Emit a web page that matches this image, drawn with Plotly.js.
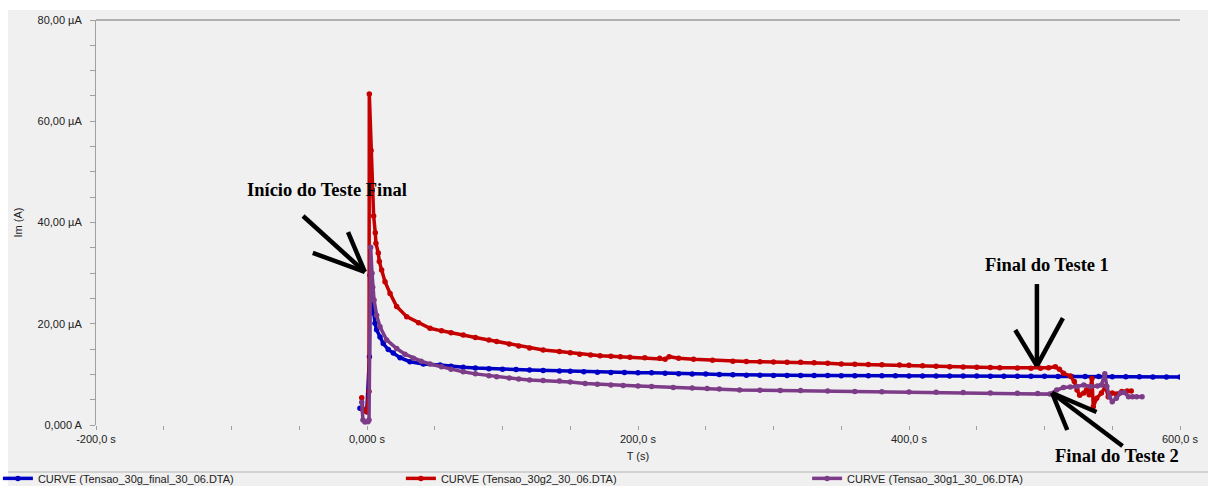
<!DOCTYPE html>
<html>
<head>
<meta charset="utf-8">
<script src="https://cdn.plot.ly/plotly-3.0.1.min.js"></script>
<style>
html,body{margin:0;padding:0;background:#fff;}
#chart{width:1208px;height:486px;}
</style>
</head>
<body>
<div id="chart"></div>
<script>
// ---- Data (time in s, current in µA) ----
const seriesNames = [
  "CURVE (Tensao_30g_final_30_06.DTA)",
  "CURVE (Tensao_30g2_30_06.DTA)",
  "CURVE (Tensao_30g1_30_06.DTA)"
];

const tBlue = [-5.2,-2.7,-0.2,1.8,2.2,3.0,3.9,4.7,5.9,7.1,9.6,12,15.7,19.4,24.4,31.7,41.6,53.9,62,71,80,90,100,110,120,130,142,150,160,170,180,190,200,210,220,230,240,250,260,270,280,290,300,310,320,330,340,350,360,370,380,390,400,410,420,430,440,450,460,470,480,490,500,510,520,530,540,550,560,570,580,590,600];
const vBlue = [3.3,3.0,2.6,13.5,29.6,26.7,24.7,22.1,20.1,18.8,17.4,16.1,14.9,14.2,13.3,12.5,12.05,11.85,11.6,11.4,11.25,11.1,11.0,10.95,10.86,10.78,10.67,10.6,10.5,10.42,10.38,10.35,10.33,10.3,10.2,10.1,10.07,10.05,10.0,9.95,9.85,9.82,9.8,9.8,9.78,9.77,9.76,9.75,9.75,9.74,9.73,9.72,9.7,9.7,9.69,9.68,9.67,9.66,9.65,9.64,9.63,9.62,9.62,9.6,9.6,9.58,9.57,9.55,9.53,9.52,9.5,9.5,9.5];

const tRed = [-3.9,-3.0,-0.2,1.5,1.7,3.0,4.9,6.1,6.6,8.3,9.1,10.8,13.3,17,21.9,29.3,38,46.5,55,62,71,80,90,95.7,105,112,120,130,142,150,157,165,172,180,187,194,205,216,220,223,230,241,255,270,280,290,300,310,320,330,340,350,360,370,380,393,400,410,420,430,440,450,460,467,480,490,497,503,508,511,514,519,522,524,526,529,531,533,535,536,538.5,542,545,547,550,553,557,561,564];
const vRed = [5.4,3.0,2.6,6.6,65.4,54.2,41.3,38.0,35.9,34.0,32.3,30.6,28.3,26.0,23.4,21.4,20.2,19.1,18.6,18.2,17.8,17.3,16.8,16.5,16.0,15.6,15.2,14.8,14.5,14.25,14.0,13.85,13.7,13.6,13.5,13.4,13.3,13.2,13.0,13.5,13.2,13.0,12.8,12.6,12.55,12.5,12.45,12.4,12.4,12.3,12.2,12.05,12.0,11.95,11.9,11.85,11.8,11.7,11.6,11.5,11.45,11.4,11.35,11.3,11.25,11.2,11.2,11.3,11.5,11.0,10.2,9.7,8.6,6.9,5.9,6.3,6.9,6.0,9.2,3.6,5.3,6.3,7.6,5.6,6.3,6.1,6.6,6.7,6.7];

const tPurple = [-3.9,-3.0,-1.5,0.7,1.5,2.7,3.7,4.2,5.2,7.1,9.6,14.5,21.9,28,34.2,40,46.5,55,62,71,80,90,95.7,105,112,120,130,142,150,161,170,180,189,200,210,226,240,251,260,275,290,305,320,340,360,380,400,420,440,460,480,495,504,509,514,519,524,529,534,539,542,544.5,546,548,550,553,556,559,562,565,568,572];
const vPurple = [4.5,1.0,0.6,0.65,1.0,35.1,30.0,27.2,24.7,21.7,19.4,16.8,15.1,14.0,13.2,12.6,12.05,11.5,11.0,10.5,10.1,9.75,9.55,9.3,9.1,8.9,8.8,8.7,8.5,8.2,8.05,7.9,7.8,7.7,7.6,7.4,7.3,7.2,7.1,6.9,6.85,6.8,6.8,6.7,6.6,6.55,6.5,6.45,6.4,6.3,6.25,6.2,6.1,6.9,7.4,7.5,7.6,7.9,7.6,7.7,7.9,10.1,7.6,5.6,4.6,5.3,6.3,6.4,5.6,5.6,5.6,5.6];

const xTickVals = [-200, 0, 200, 400, 600];
const xTickText = ["-200,0 s", "0,000 s", "200,0 s", "400,0 s", "600,0 s"];
const yTickVals = [0, 20, 40, 60, 80];
const yTickText = ["0,000 A", "20,00 µA", "40,00 µA", "60,00 µA", "80,00 µA"];

const colors = ["#0000c4", "#c40000", "#7d3c87"];

function mk(t, v, name, color, legendId) {
  return {
    type: "scatter", mode: "lines+markers", x: t, y: v, name: name,
    line: {color: color, width: 3.5},
    marker: {color: color, size: 5.5, symbol: "circle"},
    cliponaxis: true, legend: legendId
  };
}

const data = [
  mk(tBlue, vBlue, seriesNames[0], colors[0], "legend"),
  mk(tRed, vRed, seriesNames[1], colors[1], "legend"),
  mk(tPurple, vPurple, seriesNames[2], colors[2], "legend2")
];

const tickFont = {family: "Liberation Sans, Arial, sans-serif", size: 11, color: "#222"};
const annFont = {family: "Liberation Serif, Times New Roman, serif", size: 18.5, color: "#000"};

function seg(x0, y0, x1, y1) {
  return {type: "line", xref: "paper", yref: "paper", x0: x0, y0: y0, x1: x1, y1: y1,
          line: {color: "#000", width: 4.5}, layer: "above"};
}

const layout = {
  width: 1208, height: 486,
  margin: {l: 96, r: 28, t: 20, b: 61, autoexpand: false},
  paper_bgcolor: "#ffffff",
  plot_bgcolor: "#ffffff",
  font: tickFont,
  showlegend: true,
  xaxis: {
    range: [-200, 600], tickmode: "array", tickvals: xTickVals, ticktext: xTickText,
    ticks: "outside", ticklen: 4, tickcolor: "#a0a0a0", tickwidth: 1,
    minor: {dtick: 50, tick0: 0, ticks: "outside", ticklen: 4, tickcolor: "#a0a0a0", showgrid: false},
    showgrid: false, zeroline: false, showline: false,
    tickfont: tickFont, fixedrange: true,
    title: {text: "T (s)", font: tickFont, standoff: 8}
  },
  yaxis: {
    range: [0, 80], tickmode: "array", tickvals: yTickVals, ticktext: yTickText,
    ticks: "outside", ticklen: 5, tickcolor: "#a0a0a0", tickwidth: 1,
    minor: {dtick: 5, tick0: 0, ticks: "outside", ticklen: 5, tickcolor: "#a0a0a0", showgrid: false},
    showgrid: false, zeroline: false, showline: true, linecolor: "#a0a0a0", linewidth: 1,
    tickfont: tickFont, fixedrange: true, ticklabelstandoff: 6,
    title: {text: "Im (A)", font: tickFont, standoff: 12}
  },
  legend: {
    orientation: "h", x: -0.0905, xanchor: "left", y: -0.096, yanchor: "top",
    entrywidth: 358, entrywidthmode: "pixels",
    font: tickFont, bgcolor: "rgba(0,0,0,0)", itemwidth: 30
  },
  legend2: {
    orientation: "h", x: 0.656, xanchor: "left", y: -0.096, yanchor: "top",
    font: tickFont, bgcolor: "rgba(0,0,0,0)", itemwidth: 30
  },
  shapes: [
    {type: "rect", xref: "paper", yref: "paper", x0: -0.0812, x1: 1.06, y0: -0.2, y1: 1.0247,
     fillcolor: "#f0f0f0", line: {width: 0}, layer: "below"},
    {type: "line", xref: "paper", yref: "paper", x0: 0, x1: 1, y0: 1.0, y1: 1.0,
     line: {color: "#b0b0b0", width: 2}, layer: "above"},
    {type: "line", xref: "paper", yref: "paper", x0: -0.0812, x1: 1.06, y0: -0.116, y1: -0.116,
     line: {color: "#c8c8c8", width: 1.5}, layer: "above"},
    // Arrow: Início do Teste Final
    seg(0.191, 0.516, 0.248, 0.378),
    seg(0.200, 0.425, 0.248, 0.378),
    seg(0.2325, 0.4765, 0.248, 0.378),
    // Arrow: Final do Teste 1
    seg(0.868, 0.348, 0.868, 0.146),
    seg(0.848, 0.2346, 0.868, 0.146),
    seg(0.892, 0.264, 0.868, 0.146),
    // Arrow: Final do Teste 2
    seg(0.947, -0.052, 0.882, 0.079),
    seg(0.896, -0.0123, 0.882, 0.079),
    seg(0.923, 0.032, 0.882, 0.079)
  ],
  annotations: [
    {text: "<b>Início do Teste Final</b>", xref: "paper", yref: "paper", x: 0.2131, y: 0.580,
     showarrow: false, font: annFont, xanchor: "center", yanchor: "middle"},
    {text: "<b>Final do Teste 1</b>", xref: "paper", yref: "paper", x: 0.8773, y: 0.395,
     showarrow: false, font: annFont, xanchor: "center", yanchor: "middle"},
    {text: "<b>Final do Teste 2</b>", xref: "paper", yref: "paper", x: 0.9419, y: -0.077,
     showarrow: false, font: annFont, xanchor: "center", yanchor: "middle"}
  ]
};

Plotly.newPlot("chart", data, layout, {displayModeBar: false, staticPlot: true});
</script>
</body>
</html>
